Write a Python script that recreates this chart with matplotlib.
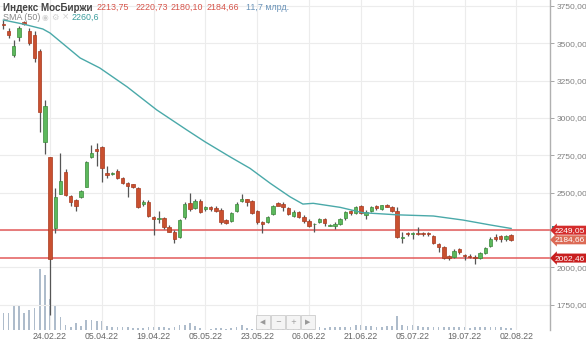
import matplotlib
matplotlib.use('Agg')
import matplotlib.pyplot as plt
import matplotlib.patches as mpatches
import matplotlib.transforms as mtransforms

# ---- data (daily candles, 10.02.22 .. 01.08.22) ----
opens = [3630, 3585, 3422, 3545, 3640, 3585, 3556, 3451, 2841, 2737,
         2262, 2491, 2641, 2478, 2451, 2469, 2540, 2737, 2793, 2808,
         2630, 2625, 2647, 2601, 2567, 2556, 2530, 2424, 2440, 2339,
         2327, 2329, 2268, 2239, 2202, 2335, 2433, 2395, 2446, 2389,
         2403, 2396, 2384, 2317, 2313, 2377, 2446, 2455, 2444, 2377,
         2306, 2306, 2357, 2429, 2424, 2396, 2344, 2373, 2339, 2313,
         2288, 2302, 2322, 2278, 2279, 2290, 2328, 2377, 2362, 2411,
         2351, 2379, 2411, 2391, 2416, 2407, 2377, 2197, 2228, 2221,
         2230, 2230, 2228, 2212, 2157, 2139, 2076, 2069, 2123, 2083,
         2076, 2072, 2061, 2094, 2143, 2205, 2210, 2190, 2213.75]
highs = [3656, 3600, 3522, 3616, 3650, 3600, 3580, 3460, 3121, 2740,
         2530, 2764, 2660, 2485, 2455, 2520, 2710, 2819, 2830, 2810,
         2680, 2640, 2660, 2605, 2575, 2560, 2536, 2450, 2453, 2344,
         2380, 2340, 2285, 2250, 2325, 2437, 2500, 2455, 2460, 2410,
         2410, 2410, 2395, 2325, 2370, 2435, 2489, 2458, 2452, 2385,
         2312, 2345, 2420, 2440, 2435, 2403, 2385, 2380, 2350, 2325,
         2295, 2330, 2330, 2290, 2305, 2330, 2378, 2385, 2410, 2418,
         2385, 2410, 2418, 2420, 2427, 2412, 2407, 2239, 2239, 2235,
         2268, 2236, 2236, 2218, 2165, 2145, 2082, 2120, 2128, 2090,
         2090, 2080, 2100, 2135, 2205, 2225, 2220, 2220, 2220.73]
lows = [3596, 3533, 3407, 3518, 3620, 3490, 3377, 2908, 2759, 1681,
        2230, 2490, 2480, 2410, 2380, 2462, 2537, 2730, 2681, 2574,
        2600, 2620, 2590, 2558, 2473, 2530, 2400, 2410, 2340, 2217,
        2296, 2255, 2235, 2161, 2195, 2325, 2380, 2390, 2365, 2378,
        2380, 2370, 2290, 2290, 2305, 2370, 2440, 2410, 2355, 2290,
        2232, 2296, 2350, 2420, 2377, 2350, 2340, 2330, 2300, 2270,
        2239, 2295, 2280, 2275, 2260, 2285, 2320, 2350, 2355, 2355,
        2322, 2373, 2385, 2385, 2402, 2373, 2194, 2165, 2212, 2190,
        2215, 2210, 2210, 2155, 2105, 2054, 2050, 2063, 2090, 2049,
        2065, 2023, 2054, 2090, 2135, 2180, 2170, 2180, 2180.10]
closes = [3620, 3556, 3484, 3601, 3630, 3504, 3400, 3042, 3080, 2058,
          2469, 2578, 2485, 2436, 2413, 2513, 2703, 2764, 2781, 2663,
          2618, 2634, 2597, 2563, 2547, 2536, 2406, 2437, 2344, 2324,
          2331, 2268, 2239, 2190, 2317, 2424, 2389, 2446, 2372, 2407,
          2391, 2380, 2306, 2299, 2366, 2424, 2455, 2440, 2366, 2306,
          2290, 2339, 2413, 2411, 2402, 2357, 2373, 2339, 2313, 2279,
          2292, 2322, 2295, 2285, 2290, 2322, 2368, 2362, 2406, 2362,
          2373, 2406, 2395, 2416, 2407, 2380, 2205, 2201, 2221, 2230,
          2221, 2221, 2221, 2165, 2139, 2061, 2061, 2110, 2105, 2076,
          2069, 2061, 2094, 2128, 2192, 2192, 2188, 2212, 2184.66]
# volume, bn RUB (approximate)
volumes = [103, 103, 145, 145, 103, 121, 133, 370, 333, 188,
           145, 76, 32, 16, 44, 26, 61, 61, 52, 52,
           26, 20, 20, 20, 20, 10, 10, 10, 16, 20,
           16, 20, 10, 16, 32, 32, 44, 26, 10, 6,
           6, 10, 10, 6, 10, 20, 32, 10, 6, 10,
           10, 16, 10, 10, 12, 16, 10, 12, 16, 16,
           12, 16, 12, 16, 20, 20, 16, 20, 30, 30,
           24, 26, 20, 20, 26, 26, 85, 30, 24, 30,
           24, 16, 16, 20, 16, 20, 16, 16, 16, 16,
           12, 16, 16, 20, 20, 20, 16, 12, 11.7]

# SMA(50): (candle index, value)
sma_idx = [0, 3.8, 7.6, 9, 14.8, 18.6, 23.9, 29.6, 35.4, 38.9, 43.7, 47.6,
           51.5, 55.3, 57.8, 59.8, 65, 69.4, 76, 83, 88.7, 94, 98]
sma_val = [3656, 3629, 3596, 3569, 3402, 3335, 3208, 3054, 2920, 2841, 2741, 2663,
           2563, 2473, 2424, 2429, 2402, 2366, 2352, 2344, 2317, 2284, 2260.6]

date_labels = ['24.02.22', '05.04.22', '19.04.22', '05.05.22', '23.05.22',
               '06.06.22', '21.06.22', '05.07.22', '19.07.22', '02.08.22']
date_idx = [9, 19, 29, 39, 49, 59, 69, 79, 89, 99]

price_ticks = [1750, 2000, 2250, 2500, 2750, 3000, 3250, 3500, 3750]
levels = [2249.05, 2062.46]

RED = '#c9502f'
RED_EDGE = '#a8391f'
GREEN = '#5cb85c'
GREEN_EDGE = '#3b8a3b'
WICK = '#555555'
SMA_COLOR = '#4aa9a9'
FONT = 'Liberation Sans'

fig = plt.figure(figsize=(5.86, 3.41), dpi=100)
fig.patch.set_facecolor('white')
ax = fig.add_axes([0, 11 / 341, 550 / 586, 330 / 341])
axv = ax.twinx()
ax.set_zorder(axv.get_zorder() + 1)
ax.patch.set_visible(False)

n = len(opens)
x = list(range(n))

# volume bars behind everything
axv.bar(x, volumes, width=0.34, color='#aebccb', linewidth=0)
axv.set_ylim(0, 2000)
axv.axis('off')

# grid
for p in price_ticks:
    ax.axhline(p, color='#ececec', lw=0.8, zorder=0)
for d in date_idx:
    ax.axvline(d, color='#ececec', lw=0.8, zorder=0)

# support / resistance levels
for lv in levels:
    ax.axhline(lv, color='#e35b5b', lw=1.1, zorder=2)

# candles
for i in x:
    o, h, l, c = opens[i], highs[i], lows[i], closes[i]
    up = c >= o
    ax.vlines(i, l, h, color=WICK, lw=0.9, zorder=3)
    bottom = min(o, c)
    height = max(abs(c - o), 4)
    ax.bar(i, height, bottom=bottom, width=0.66,
           color=GREEN if up else RED,
           edgecolor=GREEN_EDGE if up else RED_EDGE, linewidth=0.5, zorder=4)

# SMA line
ax.plot(sma_idx, sma_val, color=SMA_COLOR, lw=1.0, zorder=5)

ax.set_xlim(-0.66, 105.5)
ax.set_ylim(1581, 3790)

for s in ['top', 'left', 'bottom']:
    ax.spines[s].set_visible(False)
ax.spines['right'].set_color('#b0b0b0')
ax.spines['right'].set_linewidth(1)

ax.yaxis.tick_right()
ax.set_yticks(price_ticks)
ax.set_yticklabels(['{:.2f}'.format(p).replace('.', ',') for p in price_ticks])
ax.tick_params(axis='y', direction='out', length=3, width=0.6, color='#999999',
               labelcolor='#808080', labelsize=6.0, pad=1.5)
ax.set_xticks(date_idx)
ax.set_xticklabels(date_labels)
ax.tick_params(axis='x', length=0, labelcolor='#666666', labelsize=6.3, pad=1.5)
for t in ax.get_xticklabels() + ax.get_yticklabels():
    t.set_family(FONT)

# teal SMA tag peeking out behind the red level tag
blend = mtransforms.blended_transform_factory(ax.transAxes, ax.transData)
ax.add_patch(mpatches.Rectangle((1.004, 2249), 0.066, 27, transform=blend,
                                facecolor='#2e8f8f', edgecolor='none',
                                clip_on=False, zorder=9))

# price labels on the right axis
def price_tag(val, fc):
    ax.annotate('{:.2f}'.format(val).replace('.', ','), xy=(1, val),
                xycoords=('axes fraction', 'data'), xytext=(3.5, 0),
                textcoords='offset points', ha='left', va='center',
                color='white', fontsize=6.0, family=FONT, zorder=10,
                annotation_clip=False,
                bbox=dict(boxstyle='larrow,pad=0.12', fc=fc, ec='none'))

price_tag(2249.05, '#d42b2b')
price_tag(2184.66, '#dc6a55')
price_tag(2062.46, '#c81e1e')

# header texts
fig.text(3 / 586, 0.978, 'Индекс МосБиржи', fontsize=7.1, fontweight='bold',
         color='#444444', family=FONT, va='center')
hdr_vals = ['2213,75', '2220,73', '2180,10', '2184,66']
hdr_x = [97, 136, 171, 207]
for v, px in zip(hdr_vals, hdr_x):
    fig.text(px / 586, 0.978, v, fontsize=6.4, color='#d6544a',
             family=FONT, va='center')
fig.text(246 / 586, 0.978, '11,7 млрд.', fontsize=6.4, color='#6a93b8',
         family=FONT, va='center')
fig.text(3 / 586, 0.95, 'SMA (50)', fontsize=6.4, color='#888888',
         family=FONT, va='center')
fig.text(42 / 586, 0.95, '◉', fontsize=5.5, color='#d0d0d0', va='center')
fig.text(51 / 586, 0.95, '⚙', fontsize=6, color='#d0d0d0', va='center')
fig.text(62 / 586, 0.95, '×', fontsize=6.3, color='#d0d0d0', va='center')
fig.text(72 / 586, 0.95, '2260,6', fontsize=6.4, color='#3a9d9d',
         family=FONT, va='center')

# navigation buttons overlay
for sym, px in zip(['◀', '−', '+', '▶'], [263, 278, 293, 308]):
    fig.text(px / 586, 1 - 322 / 341, sym, fontsize=5, color='#999999',
             ha='center', va='center',
             bbox=dict(boxstyle='square,pad=0.6', fc='#f4f4f4', ec='#cccccc', lw=0.6))

fig.savefig('out.png', dpi=100, facecolor='white')
